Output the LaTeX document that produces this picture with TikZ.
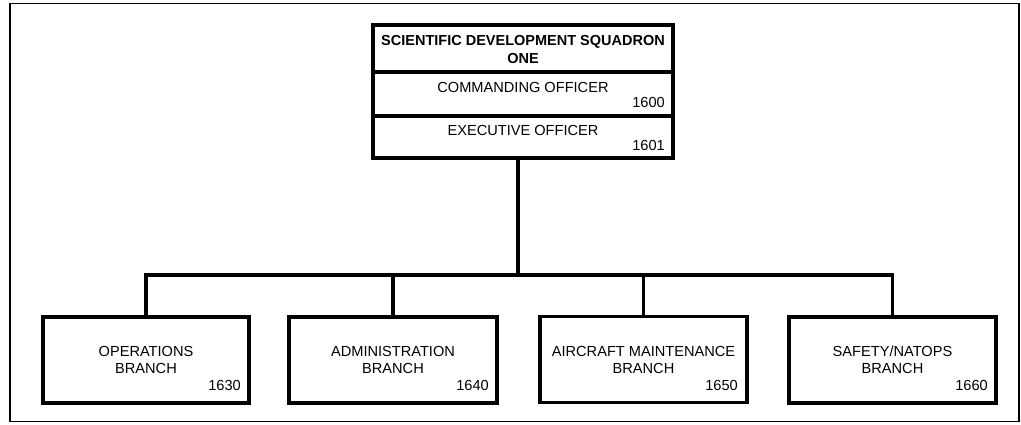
\documentclass[tikz,border=0pt]{standalone}
\usepackage{fontspec}
\setmainfont{Liberation Sans}
\begin{document}
\begin{tikzpicture}[x=1pt,y=-1pt,
  boxline/.style={draw=black,line width=3.2pt},
  unitbox/.style={boxline,rectangle,inner sep=0pt,minimum width=207pt,minimum height=86pt},
  lbl/.style={inner sep=0pt,align=center,font=\fontsize{14.6}{16.5}\selectfont},
  num/.style={inner sep=0pt,anchor=east,font=\fontsize{14.6}{16.5}\selectfont},
  ttl/.style={inner sep=0pt,align=center,font=\fontsize{14.5}{18}\selectfont\bfseries},
  conn/.style={line width=3.2pt}]
\useasboundingbox (0,0) rectangle (1021,424);
\node[draw=black,line width=1.6pt,rectangle,inner sep=0pt,minimum width=1009pt,minimum height=418pt] (frame) at (514.5,212.5) {};
% top box
\node[boxline,rectangle,inner sep=0pt,minimum width=300pt,minimum height=47pt] (title) at (523,48.5) {};
\node[boxline,rectangle,inner sep=0pt,minimum width=300pt,minimum height=44pt] (co) at (523,94) {};
\node[boxline,rectangle,inner sep=0pt,minimum width=300pt,minimum height=42pt] (xo) at (523,137) {};
\node[ttl] (titletext) at (523,50) {SCIENTIFIC DEVELOPMENT SQUADRON\\ONE};
\node[lbl] (cotext) at (523,87) {COMMANDING OFFICER};
\node[num] (conum) at (665,102) {1600};
\node[lbl] (xotext) at (523,130) {EXECUTIVE OFFICER};
\node[num] (xonum) at (665,145) {1601};
% branches
\node[unitbox,minimum width=206pt] (ops) at (146,360) {};
\node[unitbox,minimum width=208pt] (adm) at (393,360) {};
\node[unitbox] (acm) at (643.5,359.5) {};
\node[unitbox] (saf) at (892.5,360) {};
\node[lbl] (opstext) at (146,360) {OPERATIONS\\BRANCH};
\node[num] (opsnum) at (241,385) {1630};
\node[lbl] (admtext) at (393,360) {ADMINISTRATION\\BRANCH};
\node[num] (admnum) at (489,385) {1640};
\node[lbl] (acmtext) at (643.5,360) {AIRCRAFT MAINTENANCE\\BRANCH};
\node[num] (acmnum) at (738,385) {1650};
\node[lbl] (saftext) at (892.5,360) {SAFETY/NATOPS\\BRANCH};
\node[num] (safnum) at (988,385) {1660};
% connectors
\coordinate (junction) at (518,275);
\draw[conn] (junction |- xo.south) -- (junction);
\draw[conn,line cap=rect] (ops.north |- junction) -- (saf.north |- junction);
\draw[conn] (ops.north |- junction) -- (ops.north);
\draw[conn] (adm.north |- junction) -- (adm.north);
\draw[conn] (acm.north |- junction) -- (acm.north);
\draw[conn] (saf.north |- junction) -- (saf.north);
\end{tikzpicture}
\end{document}
